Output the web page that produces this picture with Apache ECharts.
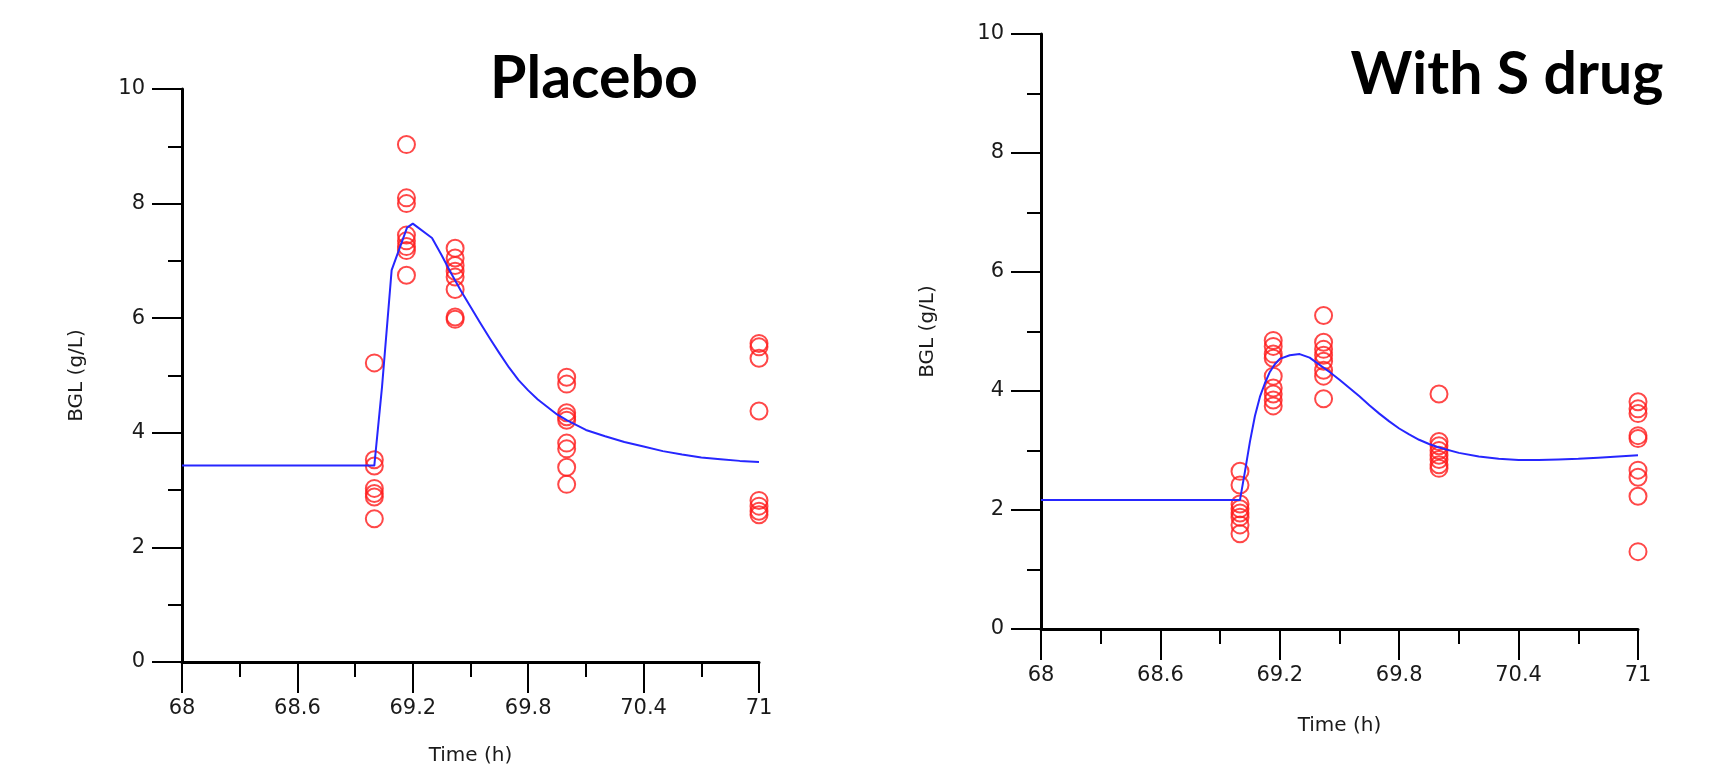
<!DOCTYPE html>
<html>
<head>
<meta charset="utf-8">
<script src="https://cdn.jsdelivr.net/npm/echarts@6/dist/echarts.min.js"></script>
<style>
html,body{margin:0;padding:0;background:#fff;}
#chart{width:1716px;height:774px;}
</style>
</head>
<body>
<div id="chart"></div>
<script>
// ---- data ----
const sampleTimes = [69.0, 69.167, 69.42, 70.0, 71.0];

const placeboObs = [
  [5.22, 3.53, 3.42, 3.03, 2.94, 2.88, 2.50],
  [9.03, 8.10, 8.00, 7.45, 7.35, 7.25, 7.18, 6.75],
  [7.22, 7.05, 6.92, 6.82, 6.72, 6.50, 6.02, 5.98],
  [4.97, 4.85, 4.35, 4.28, 4.22, 3.82, 3.72, 3.40, 3.10],
  [5.56, 5.50, 5.30, 4.38, 2.82, 2.72, 2.63, 2.57]
];
const drugObs = [
  [2.65, 2.42, 2.10, 2.02, 1.95, 1.88, 1.75, 1.60],
  [4.85, 4.75, 4.62, 4.55, 4.25, 4.05, 3.95, 3.85, 3.75],
  [5.27, 4.82, 4.70, 4.60, 4.50, 4.35, 4.25, 3.87],
  [3.95, 3.15, 3.08, 3.00, 2.92, 2.85, 2.76, 2.70],
  [3.82, 3.70, 3.62, 3.25, 3.20, 2.67, 2.55, 2.23, 1.30]
];

const placeboCurveT = [68.0, 69.0, 69.04, 69.09, 69.17, 69.2, 69.3, 69.35, 69.4, 69.45, 69.5, 69.55, 69.6, 69.65, 69.7, 69.75, 69.8, 69.85, 69.9, 69.95, 70.0, 70.1, 70.2, 70.3, 70.4, 70.5, 70.6, 70.7, 70.8, 70.9, 71.0];
const placeboCurveV = [3.43, 3.43, 4.80, 6.84, 7.58, 7.65, 7.40, 7.10, 6.78, 6.48, 6.20, 5.92, 5.65, 5.39, 5.14, 4.92, 4.74, 4.58, 4.45, 4.32, 4.22, 4.05, 3.94, 3.84, 3.76, 3.68, 3.62, 3.57, 3.54, 3.51, 3.49];

const drugCurveT = [68.0, 69.0, 69.025, 69.05, 69.075, 69.1, 69.125, 69.15, 69.175, 69.2, 69.25, 69.3, 69.35, 69.4, 69.45, 69.5, 69.55, 69.6, 69.65, 69.7, 69.75, 69.8, 69.85, 69.9, 69.95, 70.0, 70.1, 70.2, 70.3, 70.4, 70.5, 70.6, 70.7, 70.8, 70.9, 71.0];
const drugCurveV = [2.17, 2.17, 2.65, 3.15, 3.58, 3.90, 4.13, 4.32, 4.45, 4.54, 4.60, 4.62, 4.56, 4.44, 4.32, 4.19, 4.05, 3.91, 3.76, 3.62, 3.49, 3.37, 3.27, 3.18, 3.11, 3.05, 2.96, 2.90, 2.86, 2.84, 2.84, 2.85, 2.86, 2.88, 2.90, 2.92];

const xMajorTicks = [68, 68.6, 69.2, 69.8, 70.4, 71];
const xMinorTicks = [68.3, 68.9, 69.5, 70.1, 70.7];
const titles = ['Placebo', 'With S drug'];
const xName = 'Time (h)';
const yName = 'BGL (g/L)';

// ---- build ----
function obsPoints(obs) {
  const pts = [];
  obs.forEach((vals, i) => vals.forEach(v => pts.push([sampleTimes[i], v])));
  return pts;
}
function curvePoints(ts, vs) { return ts.map((t, i) => [t, vs[i]]); }

const grids = [
  {left: 182, top: 89, width: 577, height: 573},
  {left: 1041, top: 34, width: 597, height: 595}
];

const labelStyle = {fontFamily: 'DejaVu Sans', fontSize: 21, color: '#1a1a1a'};
const axisLineStyle = {color: '#000', width: 3};

function xAxes(gi, nameGap) {
  const h = grids[gi].height;
  return [
    {
      gridIndex: gi, type: 'value', min: 68, max: 71, position: 'bottom',
      axisLine: {show: true, onZero: false, lineStyle: axisLineStyle},
      axisTick: {show: true, customValues: xMajorTicks, length: 31, lineStyle: {color: '#000', width: 2}},
      axisLabel: Object.assign({customValues: xMajorTicks, margin: 36}, labelStyle),
      splitLine: {show: false},
      name: xName, nameLocation: 'middle', nameGap: nameGap,
      nameTextStyle: {fontFamily: 'DejaVu Sans', fontSize: 20, color: '#1a1a1a'}
    },
    {
      gridIndex: gi, type: 'value', min: 68, max: 71, position: 'top', offset: -h,
      axisLine: {show: false, onZero: false},
      axisTick: {show: true, inside: true, customValues: xMinorTicks, length: 15, lineStyle: {color: '#000', width: 2}},
      axisLabel: {show: false},
      splitLine: {show: false}
    }
  ];
}
function yAxis(gi, nameGap) {
  return {
    gridIndex: gi, type: 'value', min: 0, max: 10, interval: 2, position: 'left',
    axisLine: {show: true, onZero: false, lineStyle: axisLineStyle},
    axisTick: {show: true, length: 30, lineStyle: {color: '#000', width: 2}},
    minorTick: {show: true, splitNumber: 2, length: 14, lineStyle: {color: '#000', width: 2}},
    axisLabel: Object.assign({margin: 37}, labelStyle),
    splitLine: {show: false}, minorSplitLine: {show: false},
    name: yName, nameLocation: 'middle', nameGap: nameGap, nameRotate: 90,
    nameTextStyle: {fontFamily: 'DejaVu Sans', fontSize: 20, color: '#1a1a1a'}
  };
}

function scatterSeries(xi, yi, obs) {
  return {
    type: 'scatter', xAxisIndex: xi, yAxisIndex: yi, data: obsPoints(obs),
    symbol: 'circle', symbolSize: 17,
    itemStyle: {color: 'rgba(0,0,0,0)', borderColor: '#ff1a1a', borderWidth: 2},
    z: 2, silent: true
  };
}
function lineSeries(xi, yi, ts, vs) {
  return {
    type: 'line', xAxisIndex: xi, yAxisIndex: yi, data: curvePoints(ts, vs),
    showSymbol: false, smooth: false,
    lineStyle: {color: '#2626ff', width: 2, join: 'round'}, z: 3, silent: true
  };
}

const chart = echarts.init(document.getElementById('chart'), null, {renderer: 'canvas'});
chart.setOption({
  animation: false,
  backgroundColor: '#fff',
  title: [
    {text: titles[0], left: 589, top: 44, textAlign: 'center',
     textStyle: {fontFamily: 'Lato', fontWeight: 'bold', fontSize: 59, color: '#000'}},
    {text: titles[1], left: 1502, top: 40, textAlign: 'center',
     textStyle: {fontFamily: 'Lato', fontWeight: 'bold', fontSize: 59, color: '#000'}}
  ],
  grid: grids,
  xAxis: xAxes(0, 84).concat(xAxes(1, 87)),
  yAxis: [yAxis(0, 95), yAxis(1, 103)],
  series: [
    scatterSeries(0, 0, placeboObs),
    lineSeries(0, 0, placeboCurveT, placeboCurveV),
    scatterSeries(2, 1, drugObs),
    lineSeries(2, 1, drugCurveT, drugCurveV)
  ]
});
</script>
</body>
</html>
